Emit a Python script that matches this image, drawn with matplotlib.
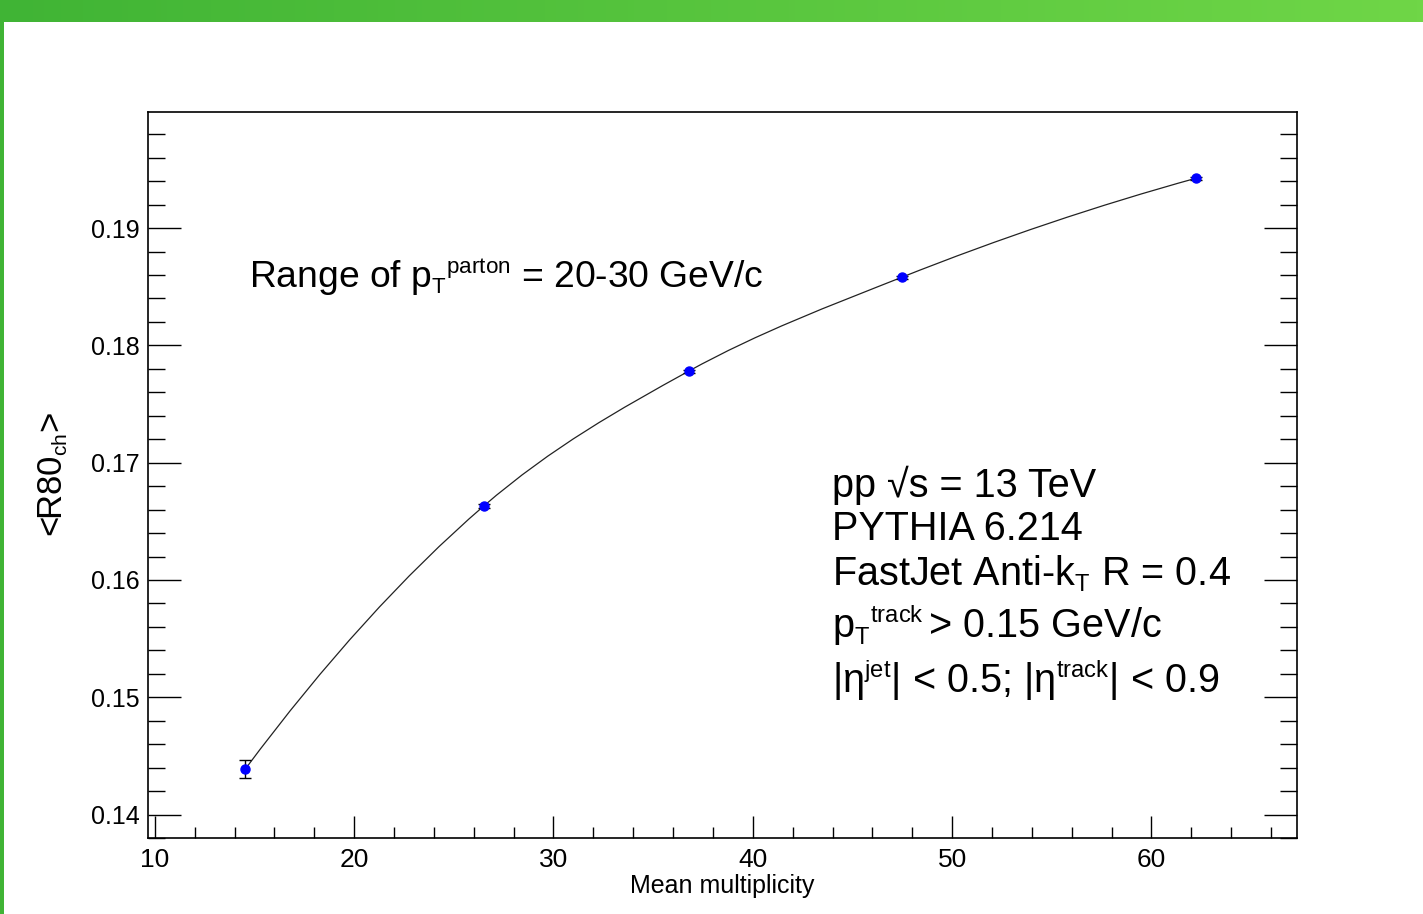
import numpy as np
import matplotlib
matplotlib.use("Agg")
import matplotlib.pyplot as plt
from matplotlib.path import Path
from matplotlib.patches import PathPatch

# ROOT's TLatex uses smaller scripts than mathtext does
try:
    import matplotlib._mathtext as _mt
    _mt.SHRINK_FACTOR = 0.6
except Exception:
    pass

plt.rcParams['font.family'] = ['Liberation Sans', 'DejaVu Sans']
plt.rcParams['mathtext.fontset'] = 'custom'
plt.rcParams['mathtext.rm'] = 'Liberation Sans'
plt.rcParams['mathtext.it'] = 'Liberation Sans'
plt.rcParams['mathtext.bf'] = 'Liberation Sans'

# data
mult = [14.55, 26.5, 36.78, 47.46, 62.25]
r80 = [0.1439, 0.1663, 0.1778, 0.1858, 0.19426]
r80_err = [0.00075, 0.00015, 0.00012, 0.00012, 0.00012]

W, H = 1423, 914
fig = plt.figure(figsize=(W / 100, H / 100), dpi=100)


def fx(px):
    return px / W


def fy(py):
    return 1 - py / H


# green header bar and left strip
bar = fig.add_axes([0, fy(22), 1, 22 / H])
bar.imshow(np.linspace(0, 1, 256)[None, :], aspect='auto',
           cmap=matplotlib.colors.LinearSegmentedColormap.from_list(
               'g', ['#40b435', '#6fd647']), extent=[0, 1, 0, 1])
bar.axis('off')
strip = fig.add_axes([0, 0, 4 / W, fy(22)])
strip.set_facecolor('#40b435')
strip.set_xticks([])
strip.set_yticks([])
for s in strip.spines.values():
    s.set_visible(False)

ax = fig.add_axes([fx(148), fy(838), fx(1297) - fx(148), (838 - 112) / H])
ax.set_xlim(9.66, 67.3)
ax.set_ylim(0.138, 0.1999)

# smooth curve through the points: cubic Hermite segments drawn as Bezier
x = np.array(mult)
y = np.array(r80)
h = np.diff(x)
s = np.diff(y) / h
m = np.zeros_like(x)
m[0] = s[0] + (s[0] - s[1]) * h[0] / (h[0] + h[1])
m[-1] = s[-1] + (s[-1] - s[-2]) * h[-1] / (h[-1] + h[-2])
for i in range(1, len(x) - 1):
    m[i] = (s[i - 1] * h[i] + s[i] * h[i - 1]) / (h[i - 1] + h[i])
verts = [(x[0], y[0])]
codes = [Path.MOVETO]
for i in range(len(x) - 1):
    verts += [(x[i] + h[i] / 3, y[i] + m[i] * h[i] / 3),
              (x[i + 1] - h[i] / 3, y[i + 1] - m[i + 1] * h[i] / 3),
              (x[i + 1], y[i + 1])]
    codes += [Path.CURVE4] * 3
ax.add_patch(PathPatch(Path(verts, codes), fill=False, ec='#222222', lw=0.9))

ax.errorbar(mult, r80, yerr=r80_err, fmt='o', color='blue', ms=6.5,
            ecolor='black', elinewidth=1, capsize=4, capthick=1, zorder=3)

ax.set_xticks([10, 20, 30, 40, 50, 60])
ax.set_xticks(np.arange(10, 67, 2), minor=True)
ax.set_yticks([0.14, 0.15, 0.16, 0.17, 0.18, 0.19])
ax.set_yticks(np.arange(0.138, 0.1999, 0.002), minor=True)
ax.set_yticklabels(['0.14', '0.15', '0.16', '0.17', '0.18', '0.19'])
ax.tick_params(axis='y', which='major', direction='in', length=24, width=1,
               left=True, right=True, labelsize=18, pad=6)
ax.tick_params(axis='y', which='minor', direction='in', length=12, width=1,
               left=True, right=True)
ax.tick_params(axis='x', which='major', direction='in', length=16, width=1,
               top=False, labelsize=19, pad=7)
ax.tick_params(axis='x', which='minor', direction='in', length=8, width=1,
               top=False)
for sp in ax.spines.values():
    sp.set_linewidth(1.2)

ax.set_xlabel('Mean multiplicity', fontsize=18)
ax.xaxis.set_label_coords(0.5, -0.05)
ax.set_ylabel(r'<R80$_{\mathrm{ch}}$>', fontsize=25)
ax.yaxis.set_label_coords(-0.068, 0.5)

fig.text(fx(249), fy(287),
         r'Range of p$_{\mathrm{T}}{}^{\mathrm{parton}}$ = 20-30 GeV/c',
         fontsize=26.8, va='baseline')
lines = ['pp √s = 13 TeV',
         'PYTHIA 6.214',
         r'FastJet Anti-k$_{\mathrm{T}}$ R = 0.4',
         r'p$_{\mathrm{T}}{}^{\mathrm{track}}\,$> 0.15 GeV/c',
         r'|η$^{\mathrm{jet}}$| < 0.5; |η$^{\mathrm{track}}$| < 0.9']
baselines = [497, 540, 585, 638, 693]
for t, b in zip(lines, baselines):
    fig.text(fx(832), fy(b), t, fontsize=28.5, va='baseline')

plt.savefig('out.png', dpi=100)
